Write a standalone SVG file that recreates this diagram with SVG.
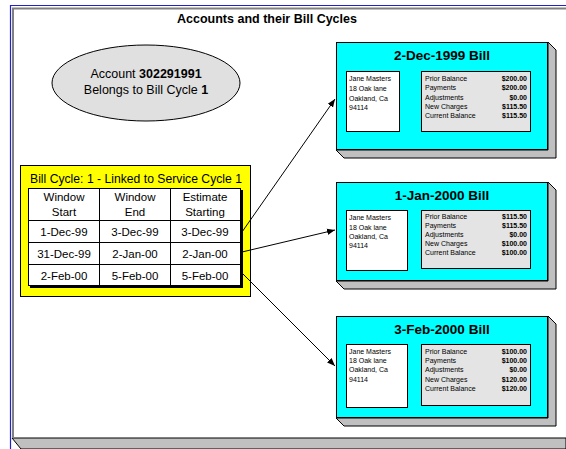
<svg xmlns="http://www.w3.org/2000/svg" width="566" height="449" viewBox="0 0 566 449">
<defs>
<style>
text{font-family:"Liberation Sans",Arial,sans-serif;fill:#000}
.title{font-size:12.5px;font-weight:bold}
.bt{font-size:13.5px;font-weight:bold;text-anchor:middle}
.sm{font-size:7px}
.smr{font-size:7px;text-anchor:end;font-weight:bold}
.tb{font-size:11.5px;text-anchor:middle}
.face{fill:#00ffff;stroke:#000;stroke-width:1}
.ext{fill:#c0c0c0;stroke:#000;stroke-width:1}
.wbox{fill:#fff;stroke:#000;stroke-width:1}
.gbox{fill:#e4e4e4;stroke:#000;stroke-width:1}
.conn{stroke:#000;stroke-width:1;fill:none}
</style>
<marker id="ah" viewBox="0 0 10 10" refX="10" refY="5" markerWidth="8" markerHeight="8" orient="auto" markerUnits="userSpaceOnUse">
<path d="M0,1 L10,5 L0,9 z" fill="#000"/>
</marker>
</defs>
<rect x="0" y="0" width="566" height="449" fill="#fff"/>
<g id="frame">
<polygon points="12,438 566,438 566,449 21,449" fill="#c0c0c0" stroke="#000" stroke-width="1"/>
<path d="M13,438 L13,8.5 L566,8.5" fill="none" stroke="#808080" stroke-width="2"/>
<path d="M10.5,449 L10.5,5.5 L566,5.5" fill="none" stroke="#2222cc" stroke-width="1.2"/>
<text class="title" x="267" y="23" text-anchor="middle">Accounts and their Bill Cycles</text>
</g>
<g id="account">
<ellipse cx="146" cy="83" rx="94" ry="38" fill="#e0e0e0" stroke="#000" stroke-width="1"/>
<text x="146" y="78" text-anchor="middle" font-size="12.5">Account <tspan font-weight="bold">302291991</tspan></text>
<text x="146" y="94" text-anchor="middle" font-size="12.5">Belongs to Bill Cycle <tspan font-weight="bold">1</tspan></text>
</g>
<g id="billcycle">
<rect x="20.5" y="165.5" width="230" height="131" fill="#ffff00" stroke="#000"/>
<text x="30" y="183" font-size="12.5" textLength="212" lengthAdjust="spacingAndGlyphs">Bill Cycle: 1 - Linked to Service Cycle 1</text>
<rect x="30" y="190" width="213" height="98" fill="#000"/>
<rect x="28.5" y="188.5" width="212" height="97" fill="#fff" stroke="#000"/>
<path d="M99.5,188.5 V285.5 M170.5,188.5 V285.5 M28.5,220.5 H240.5 M28.5,242.5 H240.5 M28.5,264.5 H240.5" stroke="#000" fill="none"/>
<text class="tb" x="64" y="201">Window</text>
<text class="tb" x="64" y="216">Start</text>
<text class="tb" x="135" y="201">Window</text>
<text class="tb" x="135" y="216">End</text>
<text class="tb" x="205" y="201">Estimate</text>
<text class="tb" x="205" y="216">Starting</text>
<text class="tb" x="64" y="236">1-Dec-99</text>
<text class="tb" x="135" y="236">3-Dec-99</text>
<text class="tb" x="205" y="236">3-Dec-99</text>
<text class="tb" x="64" y="258">31-Dec-99</text>
<text class="tb" x="135" y="258">2-Jan-00</text>
<text class="tb" x="205" y="258">2-Jan-00</text>
<text class="tb" x="64" y="280">2-Feb-00</text>
<text class="tb" x="135" y="280">5-Feb-00</text>
<text class="tb" x="205" y="280">5-Feb-00</text>
</g>
<g id="bill1">
<polygon class="ext" points="548,42 556,50 556,158 344,158 336,150 548,150"/>
<rect class="face" x="336.5" y="42.5" width="211" height="107"/>
<text class="bt" x="442" y="60">2-Dec-1999 Bill</text>
<rect class="wbox" x="346.5" y="71.5" width="53" height="60"/>
<rect class="gbox" x="421.5" y="71.5" width="109" height="60"/>
<text class="sm" x="349" y="81">Jane Masters</text>
<text class="sm" x="349" y="91">18 Oak lane</text>
<text class="sm" x="349" y="101">Oakland, Ca</text>
<text class="sm" x="349" y="110">94114</text>
<text class="sm" x="425" y="81">Prior Balance</text>
<text class="sm" x="425" y="90">Payments</text>
<text class="sm" x="425" y="100">Adjustments</text>
<text class="sm" x="425" y="109">New Charges</text>
<text class="sm" x="425" y="118">Current Balance</text>
<text class="smr" x="527" y="81">$200.00</text>
<text class="smr" x="527" y="90">$200.00</text>
<text class="smr" x="527" y="100">$0.00</text>
<text class="smr" x="527" y="109">$115.50</text>
<text class="smr" x="527" y="118">$115.50</text>
</g>
<g id="bill2">
<polygon class="ext" points="548,182 556,190 556,289 344,289 336,281 548,281"/>
<rect class="face" x="336.5" y="182.5" width="211" height="98"/>
<text class="bt" x="442" y="200">1-Jan-2000 Bill</text>
<rect class="wbox" x="346.5" y="210.5" width="61" height="60"/>
<rect class="gbox" x="421.5" y="210.5" width="109" height="58"/>
<text class="sm" x="349" y="220">Jane Masters</text>
<text class="sm" x="349" y="230">18 Oak lane</text>
<text class="sm" x="349" y="239">Oakland, Ca</text>
<text class="sm" x="349" y="248">94114</text>
<text class="sm" x="425" y="219">Prior Balance</text>
<text class="sm" x="425" y="228">Payments</text>
<text class="sm" x="425" y="237">Adjustments</text>
<text class="sm" x="425" y="246">New Charges</text>
<text class="sm" x="425" y="255">Current Balance</text>
<text class="smr" x="527" y="219">$115.50</text>
<text class="smr" x="527" y="228">$115.50</text>
<text class="smr" x="527" y="237">$0.00</text>
<text class="smr" x="527" y="246">$100.00</text>
<text class="smr" x="527" y="255">$100.00</text>
</g>
<g id="bill3">
<polygon class="ext" points="548,316 556,324 556,426 344,426 336,418 548,418"/>
<rect class="face" x="336.5" y="316.5" width="211" height="101"/>
<text class="bt" x="442" y="334">3-Feb-2000 Bill</text>
<rect class="wbox" x="346.5" y="344.5" width="61" height="63"/>
<rect class="gbox" x="421.5" y="344.5" width="109" height="61"/>
<text class="sm" x="349" y="354">Jane Masters</text>
<text class="sm" x="349" y="363">18 Oak lane</text>
<text class="sm" x="349" y="372">Oakland, Ca</text>
<text class="sm" x="349" y="382">94114</text>
<text class="sm" x="425" y="354">Prior Balance</text>
<text class="sm" x="425" y="363">Payments</text>
<text class="sm" x="425" y="372">Adjustments</text>
<text class="sm" x="425" y="382">New Charges</text>
<text class="sm" x="425" y="391">Current Balance</text>
<text class="smr" x="527" y="354">$100.00</text>
<text class="smr" x="527" y="363">$100.00</text>
<text class="smr" x="527" y="372">$0.00</text>
<text class="smr" x="527" y="382">$120.00</text>
<text class="smr" x="527" y="391">$120.00</text>
</g>
<g id="connectors">
<line class="conn" x1="242" y1="232" x2="335" y2="99" marker-end="url(#ah)"/>
<line class="conn" x1="242" y1="252" x2="335" y2="230" marker-end="url(#ah)"/>
<line class="conn" x1="242" y1="273" x2="335" y2="366" marker-end="url(#ah)"/>
</g>
</svg>
